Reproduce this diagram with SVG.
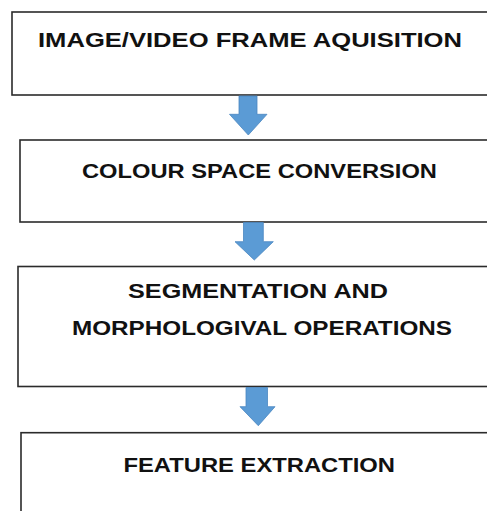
<svg xmlns="http://www.w3.org/2000/svg" width="487" height="511" viewBox="0 0 487 511">
<style>
.box{fill:#fff;stroke:#2b2b2b;stroke-width:1.6}
.lbl{font-family:"Liberation Sans",Arial,sans-serif;font-weight:bold;font-size:21px;fill:#111}
.arrow{fill:#5b9bd5;stroke:#4a86c0;stroke-width:0.8}
</style>
<rect width="487" height="511" fill="#fff"/>
<g id="node1">
<rect class="box" x="12" y="12" width="490" height="83"/>
<text class="lbl" x="38" y="46.5" textLength="424" lengthAdjust="spacingAndGlyphs">IMAGE/VIDEO FRAME AQUISITION</text>
</g>
<g id="node2">
<rect class="box" x="20" y="140" width="490" height="82"/>
<text class="lbl" x="82" y="178.3" textLength="355" lengthAdjust="spacingAndGlyphs">COLOUR SPACE CONVERSION</text>
</g>
<g id="node3">
<rect class="box" x="18" y="266.5" width="490" height="120"/>
<text class="lbl" x="128" y="298.3" textLength="260" lengthAdjust="spacingAndGlyphs">SEGMENTATION AND</text>
<text class="lbl" x="72" y="335" textLength="380" lengthAdjust="spacingAndGlyphs">MORPHOLOGIVAL OPERATIONS</text>
</g>
<g id="node4">
<rect class="box" x="21" y="432.7" width="490" height="100"/>
<text class="lbl" x="123.5" y="471.7" textLength="271.5" lengthAdjust="spacingAndGlyphs">FEATURE EXTRACTION</text>
</g>
<g id="connectors">
<polygon class="arrow" points="239,96 257,96 257,114.3 267,114.3 248.3,135 229.5,114.3 239,114.3"/>
<polygon class="arrow" points="243.5,222.5 263.3,222.5 263.3,241.7 273.3,241.7 254.3,260 235,241.7 243.5,241.7"/>
<polygon class="arrow" points="246,387.5 267.5,387.5 267.5,406.7 275,406.7 258.3,425.7 240,406.7 246,406.7"/>
</g>
</svg>
